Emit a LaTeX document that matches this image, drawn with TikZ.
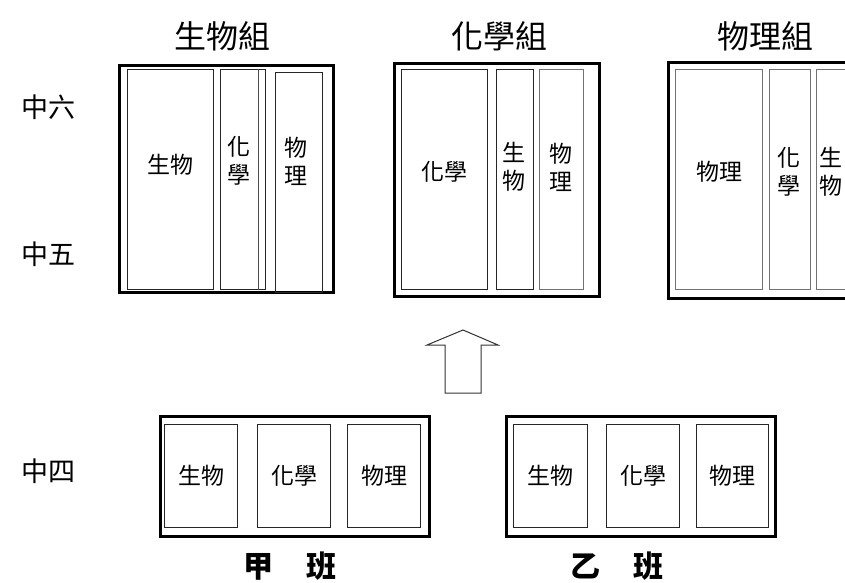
\documentclass[tikz,border=0pt]{standalone}
\usepackage{fontspec}
\setmainfont{Noto Sans CJK TC}
\begin{document}
\begin{tikzpicture}[x=1pt,y=-1pt,
  outerbox/.style={draw=black,line width=2.6pt,fill=none},
  subbox/.style={draw=black!85,line width=1pt,inner sep=0pt,font=\fontsize{23}{28}\selectfont,align=center},
  graybox/.style={subbox,draw=black!55},
  intext/.style={font=\fontsize{23}{28}\selectfont,align=center,inner sep=0pt},
  grplabel/.style={font=\fontsize{32}{34}\selectfont},
  rowlabel/.style={font=\fontsize{27}{30}\selectfont},
  classlabel/.style={font=\bfseries\fontsize{30}{32}\selectfont},
  blockarrow/.style={draw=black!80,line width=1pt,fill=white}]
\useasboundingbox (0,0) rectangle (845,582);
\clip (0,0) rectangle (845,582);

% titles
\node[grplabel] (t1) at (222,36) {生物組};
\node[grplabel] (t2) at (499,36) {化學組};
\node[grplabel] (t3) at (765,36) {物理組};

% row labels
\node[rowlabel] (r6) at (48,107) {中六};
\node[rowlabel] (r5) at (48,254) {中五};
\node[rowlabel] (r4) at (48,471) {中四};

% --- group 1 (生物組)
\node[outerbox,minimum width=214,minimum height=227,anchor=north west] (g1) at (118,64) {};
\node[subbox,minimum width=86,minimum height=220,anchor=north west] (g1a) at (127,69) {};
\node[intext] (g1at) at (170,165) {生物};
\node[subbox,minimum width=45,minimum height=220,anchor=north west] (g1b) at (220,69) {};
\draw[black!70,line width=0.8pt] (g1b.north west) ++(38,0) coordinate (g1bl) -- (g1bl |- g1b.south);
\node[intext] (g1bt) at (239,161) {化\\學};
\node[subbox,minimum width=47,minimum height=220,anchor=north west] (g1c) at (275,72) {};
\node[intext] (g1ct) at (296,161) {物\\理};

% --- group 2 (化學組)
\node[outerbox,minimum width=205,minimum height=233,anchor=north west] (g2) at (393,62) {};
\node[subbox,minimum width=86,minimum height=220,anchor=north west] (g2a) at (401,69) {};
\node[intext] (g2at) at (444,172) {化學};
\node[subbox,minimum width=37,minimum height=220,anchor=north west] (g2b) at (496,69) {};
\node[intext] (g2bt) at (514,167) {生\\物};
\node[graybox,minimum width=44,minimum height=220,anchor=north west] (g2c) at (539,69) {};
\node[intext] (g2ct) at (561,167) {物\\理};

% --- group 3 (物理組)
\node[outerbox,minimum width=210,minimum height=236,anchor=north west] (g3) at (667,61) {};
\node[graybox,minimum width=87,minimum height=220,anchor=north west] (g3a) at (675,69) {};
\node[intext] (g3at) at (719,172) {物理};
\node[graybox,minimum width=41,minimum height=220,anchor=north west] (g3b) at (769,69) {};
\node[intext] (g3bt) at (789,172) {化\\學};
\node[graybox,minimum width=42,minimum height=220,anchor=north west] (g3c) at (816,69) {};
\node[intext] (g3ct) at (831,172) {生\\物};

% --- arrow
\draw[blockarrow] (463,330) -- (498,345) -- (481,345) -- (481,393) -- (445,393) -- (445,345) -- (427,345) -- cycle;

% --- class 甲
\node[outerbox,minimum width=269,minimum height=120,anchor=north west] (c1) at (159,415) {};
\node[subbox,minimum width=73,minimum height=103,anchor=north west] (c1a) at (164,424) {生物};
\node[subbox,minimum width=73,minimum height=103,anchor=north west] (c1b) at (257,424) {化學};
\node[subbox,minimum width=73,minimum height=103,anchor=north west] (c1c) at (347,424) {物理};
\node[classlabel] (l1) at (290,566) {甲\hspace{1.1em}班};

% --- class 乙
\node[outerbox,minimum width=269,minimum height=120,anchor=north west] (c2) at (505,415) {};
\node[subbox,minimum width=74,minimum height=103,anchor=north west] (c2a) at (513,424) {生物};
\node[subbox,minimum width=73,minimum height=103,anchor=north west] (c2b) at (606,424) {化學};
\node[subbox,minimum width=72,minimum height=103,anchor=north west] (c2c) at (696,424) {物理};
\node[classlabel] (l2) at (617,566) {乙\hspace{1.1em}班};
\end{tikzpicture}
\end{document}
